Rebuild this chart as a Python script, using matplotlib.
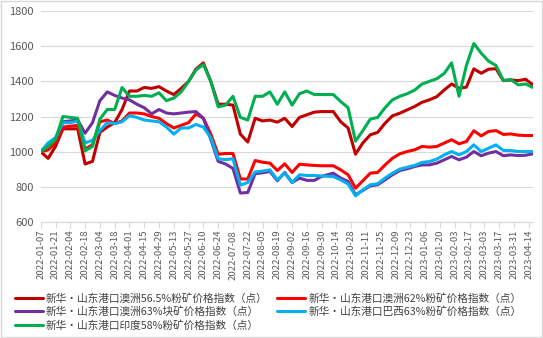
import pandas as pd
import matplotlib
matplotlib.use('Agg')
import matplotlib.pyplot as plt
import matplotlib.dates as mdates
from matplotlib.patches import Rectangle

plt.rcParams['font.family'] = ['Noto Sans CJK SC', 'DejaVu Sans']

# weekly index dates (Fridays until the National Day break, Tuesdays after it)
dates = list(pd.date_range('2022-01-07', '2022-09-30', freq='7D')) + \
        list(pd.date_range('2022-10-11', '2023-04-18', freq='7D'))

au_565 = [1000, 962, 1030, 1130, 1130, 1130, 930, 945, 1110, 1140,
          1165, 1240, 1345, 1345, 1365, 1360, 1370, 1345, 1325, 1360,
          1400, 1470, 1505, 1400, 1270, 1270, 1265, 1100, 1055, 1190,
          1175, 1180, 1168, 1190, 1143, 1195, 1210, 1225, 1228, 1228,
          1170, 1135, 986, 1050, 1096, 1110, 1162, 1204, 1219, 1238,
          1257, 1281, 1295, 1313, 1351, 1385, 1361, 1367, 1471, 1446,
          1469, 1472, 1404, 1408, 1404, 1412, 1380]
au_62 = [1000, 1010, 1050, 1140, 1145, 1150, 1015, 1040, 1170, 1180,
         1160, 1175, 1220, 1220, 1215, 1200, 1190, 1160, 1135, 1150,
         1165, 1215, 1190, 1100, 985, 990, 990, 845, 845, 950,
         940, 935, 893, 931, 882, 929, 925, 922, 920, 920,
         897, 869, 793, 835, 878, 882, 925, 963, 988, 1001,
         1011, 1030, 1026, 1030, 1049, 1068, 1045, 1058, 1119, 1090,
         1115, 1120, 1098, 1101, 1094, 1092, 1092]
au_63_lump = [1000, 1040, 1070, 1170, 1175, 1180, 1105, 1165, 1290, 1340,
              1320, 1305, 1295, 1270, 1250, 1215, 1240, 1220, 1215, 1220,
              1225, 1228, 1190, 1070, 945, 930, 905, 765, 768, 875,
              880, 888, 835, 882, 825, 850, 837, 837, 860, 878,
              850, 831, 755, 780, 806, 812, 840, 869, 893, 903,
              916, 925, 925, 935, 954, 973, 954, 969, 1001, 977,
              992, 1001, 977, 982, 978, 980, 988]
br_63 = [1000, 1050, 1080, 1165, 1165, 1175, 1050, 1065, 1120, 1165,
         1160, 1170, 1205, 1195, 1180, 1175, 1170, 1140, 1100, 1135,
         1135, 1155, 1140, 1080, 960, 955, 960, 810, 825, 885,
         890, 897, 840, 878, 825, 869, 865, 865, 862, 859,
         840, 816, 749, 783, 812, 818, 850, 878, 901, 912,
         922, 939, 944, 958, 982, 1001, 982, 1001, 1039, 1001,
         1020, 1039, 1007, 1007, 1001, 1001, 1001]
in_58 = [1000, 1030, 1070, 1200, 1195, 1190, 1005, 1030, 1185, 1240,
         1240, 1365, 1315, 1315, 1320, 1315, 1335, 1290, 1305, 1340,
         1400, 1465, 1495, 1400, 1255, 1265, 1315, 1195, 1180, 1315,
         1315, 1340, 1270, 1340, 1265, 1330, 1345, 1325, 1325, 1325,
         1285, 1250, 1060, 1120, 1185, 1195, 1250, 1295, 1315, 1330,
         1350, 1385, 1400, 1415, 1445, 1505, 1315, 1490, 1615, 1560,
         1515, 1490, 1405, 1410, 1380, 1385, 1365]

series = [
    ('新华·山东港口澳洲56.5%粉矿价格指数（点）', au_565, '#C00000'),
    ('新华·山东港口澳洲62%粉矿价格指数（点）', au_62, '#FF0000'),
    ('新华·山东港口澳洲63%块矿价格指数（点）', au_63_lump, '#7030A0'),
    ('新华·山东港口巴西63%粉矿价格指数（点）', br_63, '#00B0F0'),
    ('新华·山东港口印度58%粉矿价格指数（点）', in_58, '#00B050'),
]

TXT = '#595959'
GRID = '#D9D9D9'

fig = plt.figure(figsize=(5.43, 3.38), dpi=100)
fig.patch.set_facecolor('white')
ax = fig.add_axes([0.075, 0.343, 0.9065, 0.6245])

handles = []
for name, vals, col in series:
    ln, = ax.plot(dates, vals, color=col, lw=2.2, label=name,
                  solid_joinstyle='round', solid_capstyle='round')
    handles.append(ln)

ax.set_ylim(600, 1800)
ax.set_yticks(range(600, 1801, 200))
ax.set_xlim(dates[0], dates[-1])
ax.set_xticks(pd.date_range('2022-01-07', '2023-04-14', freq='14D'))
ax.xaxis.set_major_formatter(mdates.DateFormatter('%Y-%m-%d'))
ax.tick_params(axis='x', rotation=90, labelsize=6.9, colors=TXT,
               length=4, width=0.8, color=GRID, pad=1.5)
ax.tick_params(axis='y', labelsize=8, colors=TXT, length=0, pad=5)
for lbl in ax.get_xticklabels():
    lbl.set_color(TXT)

ax.grid(axis='y', color=GRID, lw=0.8)
ax.set_axisbelow(True)
for s in ['top', 'right', 'left']:
    ax.spines[s].set_visible(False)
ax.spines['bottom'].set_color(GRID)
ax.spines['bottom'].set_linewidth(0.8)

# legend filled row by row: two per row, India last
order = [0, 2, 4, 1, 3]
fig.legend([handles[i] for i in order], [series[i][0] for i in order],
           loc='upper left', bbox_to_anchor=(15 / 543, 1 - 293 / 338),
           ncol=2, frameon=False, fontsize=7.7, labelcolor='#404040',
           handlelength=2.6, handletextpad=0.3, columnspacing=0.9,
           labelspacing=0.25, borderpad=0, borderaxespad=0)

fig.add_artist(Rectangle((0.002, 0.003), 0.996, 0.994, transform=fig.transFigure,
                         fill=False, edgecolor=GRID, lw=1))

fig.savefig('out.png', dpi=100, facecolor='white')
